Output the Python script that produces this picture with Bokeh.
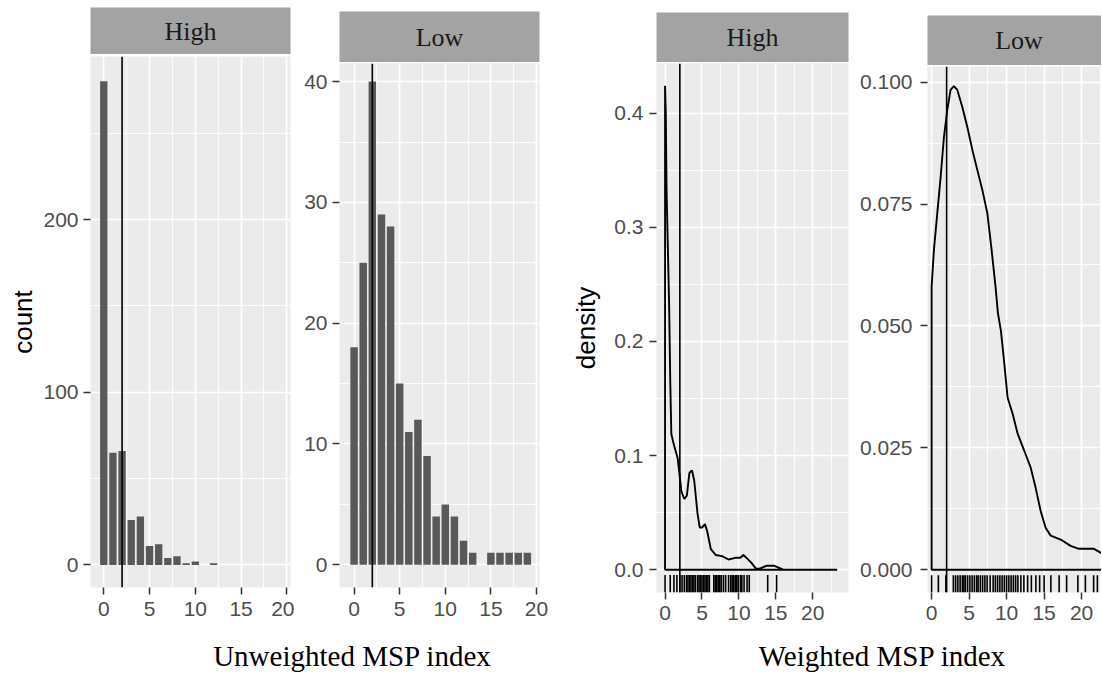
from bokeh.plotting import figure
from bokeh.layouts import row, column
from bokeh.models import Range1d, FixedTicker, Span, PrintfTickFormatter
from bokeh.core.properties import value
from bokeh.embed import file_html
from bokeh.resources import INLINE

# ---------------- data ----------------
facet_labels = ["High", "Low"]
msp_bins = list(range(20))
high_counts = [280, 65, 66, 26, 28, 11, 12, 4, 5, 1, 2, 0, 1, 0, 0, 0, 0, 0, 0, 0]
low_counts = [18, 25, 40, 29, 28, 15, 11, 12, 9, 4, 5, 4, 2, 1, 0, 1, 1, 1, 1, 1]
ref_line = 2

x_ticks = [0, 5, 10, 15, 20]
count_high_ticks = [0, 100, 200]
count_low_ticks = [0, 10, 20, 30, 40]
dens_high_ticks = [0.0, 0.1, 0.2, 0.3, 0.4]
dens_low_ticks = [0.0, 0.025, 0.05, 0.075, 0.1]

high_dens_x = [0.0, 0.1, 0.2, 0.35, 0.55, 0.7, 0.85, 1.1, 1.3, 1.7,
               1.95, 2.2, 2.6, 2.95, 3.3, 3.65, 3.95, 4.4, 4.7, 5.0,
               5.4, 5.7, 6.2, 6.85, 7.7, 8.6, 9.5, 10.2, 10.6, 11.1,
               11.7, 12.3, 12.8, 13.7, 14.8, 15.7, 16.1, 23.3]
high_dens_y = [0.424, 0.400, 0.334, 0.290, 0.232, 0.166, 0.119, 0.112, 0.107, 0.098,
               0.084, 0.069, 0.062, 0.065, 0.085, 0.087, 0.078, 0.049, 0.037, 0.037,
               0.040, 0.034, 0.018, 0.013, 0.012, 0.009, 0.0105, 0.0105, 0.013, 0.010,
               0.006, 0.001, 0.001, 0.0035, 0.0035, 0.001, 0.0, 0.0]

low_dens_x = [0.0, 0.3, 0.67, 1.2, 1.64, 2.09, 2.53, 2.97, 3.43, 4.09,
              4.76, 5.43, 6.09, 6.76, 7.43, 7.96, 8.53, 8.84, 9.24, 9.69,
              10.13, 10.8, 11.47, 12.35, 13.2, 13.87, 14.53, 15.2, 15.87, 17.2,
              18.53, 19.64, 21.64, 22.76]
low_dens_y = [0.058, 0.0655, 0.0717, 0.0805, 0.0887, 0.0943, 0.0984, 0.0992, 0.0984, 0.0949,
              0.0908, 0.0861, 0.082, 0.0779, 0.0731, 0.0661, 0.0579, 0.0526, 0.049, 0.0423,
              0.0353, 0.032, 0.0279, 0.0244, 0.021, 0.0168, 0.0121, 0.0086, 0.007, 0.0062,
              0.0049, 0.0043, 0.0043, 0.0033]

high_rug = [0.0, 0.7, 1.2, 1.6, 2.0, 2.3, 2.6, 2.9, 3.1, 3.3, 3.5, 3.7, 3.9, 4.1, 4.4,
            4.6, 4.8, 5.0, 5.2, 5.4, 5.6, 5.8, 6.0, 6.6, 6.8, 7.0, 7.2, 7.4, 7.6, 7.9,
            8.2, 8.6, 8.9, 9.1, 9.3, 9.5, 9.7, 9.9, 10.2, 10.4, 10.7, 11.1, 11.4, 13.9, 15.1]
low_rug = [0.0, 0.9, 1.9, 2.9, 3.2, 3.5, 3.8, 4.1, 4.3, 4.5, 4.8, 5.1, 5.4, 5.7, 6.0,
           6.2, 6.5, 6.8, 7.1, 7.4, 7.8, 8.2, 8.5, 8.8, 9.1, 9.4, 9.7, 10.0, 10.3, 10.6,
           10.9, 11.2, 11.5, 11.9, 12.3, 12.8, 13.3, 13.9, 14.4, 15.0, 15.9, 17.0, 18.0,
           19.5, 20.5, 21.6, 22.1]

# ---------------- style ----------------
PANEL_BG = "#EBEBEB"
STRIP_BG = "#A3A3A3"
SANS = "Liberation Sans"
SERIF = "Liberation Serif"


def minor_of(ticks, lo, hi):
    step = ticks[1] - ticks[0]
    out = []
    t = ticks[0] - step / 2.0
    while t <= hi:
        if t >= lo:
            out.append(t)
        t += step
    return out


def make_panel(width, height, lb, rb, tb, bb, xr, yr, yticks, ylabel=None,
               ylabel_standoff=2, yfmt=None, ystand=5, xstand=7):
    p = figure(width=width, height=height, x_range=Range1d(*xr), y_range=Range1d(*yr),
               output_backend="svg", toolbar_location=None, tools="")
    p.min_border_left = lb
    p.min_border_right = rb
    p.min_border_top = tb
    p.min_border_bottom = bb
    p.background_fill_color = PANEL_BG
    p.border_fill_color = "white"
    p.outline_line_color = None
    p.xaxis.ticker = FixedTicker(ticks=x_ticks, minor_ticks=minor_of(x_ticks, xr[0], xr[1]))
    p.yaxis.ticker = FixedTicker(ticks=yticks, minor_ticks=minor_of(yticks, yr[0], yr[1]))
    if yfmt:
        p.yaxis.formatter = PrintfTickFormatter(format=yfmt)
    for g in (p.xgrid, p.ygrid):
        g.grid_line_color = "white"
        g.grid_line_width = 1.7
        g.minor_grid_line_color = "white"
        g.minor_grid_line_width = 0.9
    p.axis.axis_line_color = None
    p.axis.major_tick_line_color = "#333333"
    p.axis.major_tick_line_width = 1.5
    p.axis.major_tick_in = 0
    p.axis.major_tick_out = 7
    p.axis.minor_tick_line_color = None
    p.axis.major_label_text_font = SANS
    p.axis.major_label_text_font_size = "21px"
    p.axis.major_label_text_color = "#4D4D4D"
    p.xaxis.major_label_standoff = xstand
    p.yaxis.major_label_standoff = ystand
    if ylabel:
        p.yaxis.axis_label = ylabel
        p.yaxis.axis_label_text_font = SANS
        p.yaxis.axis_label_text_font_size = "26px"
        p.yaxis.axis_label_text_font_style = "normal"
        p.yaxis.axis_label_text_color = "black"
        p.yaxis.axis_label_standoff = ylabel_standoff
    p.add_layout(Span(location=ref_line, dimension="height", line_color="black", line_width=1.6))
    return p


def make_strip(width, height, lb, rb, tb, label, tx=0.5):
    s = figure(width=width, height=height, x_range=Range1d(0, 1), y_range=Range1d(0, 1),
               output_backend="svg", toolbar_location=None, tools="",
               x_axis_location=None, y_axis_location=None)
    s.min_border_left = lb
    s.min_border_right = rb
    s.min_border_top = tb
    s.min_border_bottom = 0
    s.background_fill_color = STRIP_BG
    s.border_fill_color = "white"
    s.outline_line_color = None
    s.grid.visible = False
    s.text(x=[tx], y=[0.5], text=[label], text_font=value(SERIF), text_font_size="26px",
           text_align="center", text_baseline="middle", text_color="#1A1A1A")
    return s


def make_title(width, height, label, cx, cy):
    t = figure(width=width, height=height, x_range=Range1d(0, width), y_range=Range1d(0, height),
               output_backend="svg", toolbar_location=None, tools="",
               x_axis_location=None, y_axis_location=None)
    t.min_border_left = 0
    t.min_border_right = 0
    t.min_border_top = 0
    t.min_border_bottom = 0
    t.background_fill_color = "white"
    t.border_fill_color = "white"
    t.outline_line_color = None
    t.grid.visible = False
    t.text(x=[cx], y=[cy], text=[label], text_font=value(SERIF), text_font_size="29px",
           text_align="center", text_baseline="middle", text_color="black")
    return t


def add_density(p, dx, dy, rug, yr):
    xs = [dx[0]] + dx + [dx[-1]]
    ys = [0.0] + dy + [0.0]
    p.patch(xs, ys, fill_color=None, line_color="black", line_width=1.9)
    span = yr[1] - yr[0]
    p.segment(x0=rug, y0=[yr[0]] * len(rug), x1=rug, y1=[yr[0] + 0.033 * span] * len(rug),
              line_color="black", line_width=1.6, line_alpha=1.0)


# ---------------- group 1 : counts (x 0..568) ----------------
yr_a = (-13.1, 294.4)
pa = make_panel(294, 576, 90, 4, 2, 43, (-1.45, 20.4), yr_a, count_high_ticks, ylabel="count",
                ylabel_standoff=2)
pa.vbar(x=msp_bins, top=high_counts, width=0.8, bottom=0, fill_color="#595959", line_color=None)
sa = make_strip(294, 54, 88, 0, 7, facet_labels[0])

yr_b = (-1.88, 41.5)
pb = make_panel(274, 568, 45, 28, 1, 43, (-1.6, 20.33), yr_b, count_low_ticks)
pb.vbar(x=msp_bins, top=low_counts, width=0.82, bottom=0, fill_color="#595959", line_color=None)
sb = make_strip(274, 62, 45, 29, 11, facet_labels[1])

t1 = make_title(568, 44, "Unweighted MSP index", 352, 19)

# ---------------- group 2 : densities (x 568..1101) ----------------
yr_c = (-0.0199, 0.4435)
pc = make_panel(281, 568, 85, 1, 1, 38, (-1.16, 24.84), yr_c, dens_high_ticks, ylabel="density",
                ylabel_standoff=10, yfmt="%.1f", ystand=6, xstand=6)
add_density(pc, high_dens_x, high_dens_y, high_rug, yr_c)
sc = make_strip(281, 62, 85, 1, 12, facet_labels[0])

yr_d = (-0.00466, 0.1032)
pd = make_panel(252, 565, 78, 0, 1, 38, (-0.55, 22.65), yr_d, dens_low_ticks,
                yfmt="%.3f", ystand=8, xstand=6)
add_density(pd, low_dens_x, low_dens_y, low_rug, yr_d)
sd = make_strip(252, 65, 78, 0, 15, facet_labels[1], tx=0.526)

t2 = make_title(533, 44, "Weighted MSP index", 314, 19)

g1 = column(row(column(sa, pa), column(sb, pb)), t1)
g2 = column(row(column(sc, pc), column(sd, pd)), t2)
layout = row(g1, g2)

open("out.html", "w").write(file_html(layout, INLINE))
